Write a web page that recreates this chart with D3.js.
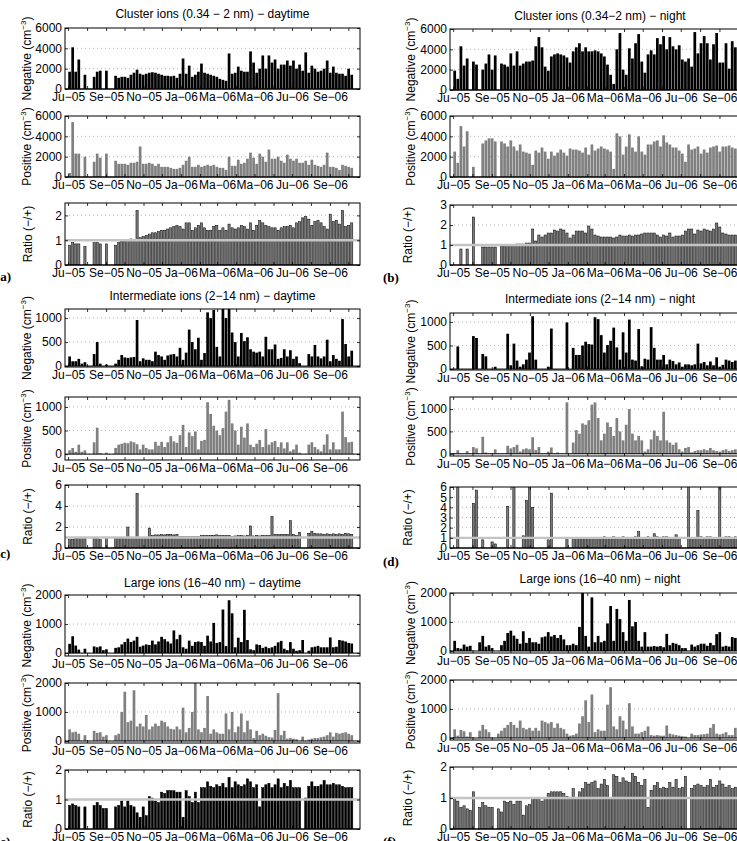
<!DOCTYPE html>
<html>
<head>
<meta charset="utf-8">
<script src="https://cdn.jsdelivr.net/npm/d3@7"></script>
<style>
  body { margin: 0; background: #fff; }
  svg { display: block; font-family: "Liberation Sans", Arial, sans-serif; }
</style>
</head>
<body>
<div id="fig"></div>
<script>
// 5-day bins starting 1 Jul 2005, null = no data
const binStart = new Date(2005, 6, 1);
const binDays = 5;

const tickLabels = ["Ju−05", "Se−05", "No−05", "Ja−06", "Ma−06", "Ma−06", "Ju−06", "Se−06"];

const clusterDayNeg = [1700,4100,1700,2900,null,1400,null,null,1200,1700,
  1800,null,1800,null,null,1300,1100,1200,1200,1100,
  1400,1600,1900,1500,1400,1500,1600,1650,1600,1500,
  1400,1300,1300,1250,1300,1100,1500,3000,1500,2300,
  1200,1400,1700,2500,1600,1500,1400,1300,1200,1000,
  900,800,3500,1500,1600,2200,1800,1700,1700,3700,
  2600,1600,2000,3300,2000,3300,2600,2900,2000,2400,
  2400,2800,2300,2800,2000,2400,1800,3600,1600,2300,
  2000,1700,1800,2000,2800,1600,2200,1600,1500,1500,
  1300,2000,1400];
const clusterDayPos = [400,5400,2300,2300,null,2000,null,null,1500,2300,
  1900,null,2300,null,null,1600,1300,1300,1300,1200,
  1400,1400,1500,3000,1300,1300,1400,1300,1100,1300,
  1000,1000,1000,900,800,800,900,1200,1600,2000,
  1000,1000,1200,1000,1100,1200,1100,1200,1000,900,
  900,700,2000,1100,1100,1700,1300,1400,1800,2400,
  1900,1300,2300,2000,1500,2700,1800,1800,2000,1600,
  1400,2200,1800,1600,1800,1400,1400,1600,1200,1700,
  1200,1100,1000,1200,2400,1000,1000,900,700,1200,
  1100,1000,900];
const clusterDayRatio = [0.8,0.9,0.85,0.85,null,0.75,null,null,0.9,0.9,
  0.85,null,0.85,null,null,0.8,0.9,0.95,0.95,1.0,
  1.05,1.0,2.2,1.1,1.15,1.2,1.25,1.3,1.3,1.35,
  1.4,1.4,1.45,1.5,1.55,1.6,1.55,1.45,1.7,1.7,
  1.4,1.5,1.6,1.7,1.5,1.4,1.4,1.55,1.6,1.4,
  1.5,1.4,1.65,1.5,1.45,1.5,1.6,1.55,1.45,1.7,
  1.4,1.6,1.8,1.7,1.6,1.55,1.5,1.5,1.4,1.5,
  1.55,1.55,1.6,1.5,1.7,1.75,1.9,1.95,1.85,1.6,
  1.75,1.8,1.7,1.55,1.45,2.05,1.75,1.8,1.65,2.2,
  1.55,1.6,1.7];

const clusterNightNeg = [1900,1100,4300,2400,3100,null,2800,2500,null,2000,
  2600,3500,2000,3400,null,2600,2500,2300,3600,2400,
  3800,2400,2600,2800,2800,2900,4300,5200,4200,2300,
  1900,3300,3500,3600,3500,3400,3200,2700,3800,4200,
  4600,3800,4200,3800,3800,3900,3800,3600,3300,2500,
  1500,600,4000,5600,2000,1500,4100,3100,4600,5500,
  2800,1700,3500,3900,3500,5100,4500,5300,4000,5200,
  4300,4000,4400,3000,2800,3100,2300,5700,3600,4600,
  5300,4600,3000,4500,5600,2700,2700,4600,2100,4800,
  4200,4000,3800];
const clusterNightPos = [2500,1400,5000,3000,4500,null,1000,null,null,3300,
  3600,3800,3800,3500,null,3500,3300,3000,3600,3000,
  2600,3200,2500,2400,2300,1200,2600,2400,2900,2500,
  1800,2500,2100,2400,2700,2400,2100,2800,2700,2700,
  2600,2400,2900,2200,3200,2600,2800,3000,2800,2700,
  2500,800,4300,4000,2200,3000,4200,2900,2500,4000,
  2500,2200,3200,3200,3500,3600,3000,4100,3400,3200,
  2900,2900,2600,2300,1500,3200,2700,2800,3000,2300,
  2700,2400,2900,3000,3100,2500,3000,3000,3100,2900,
  2800,3000,2800];
const clusterNightRatio = [null,null,0.8,null,0.8,null,2.4,null,null,0.9,
  0.9,0.9,0.9,0.9,null,0.95,0.95,1.0,1.0,1.0,
  1.05,1.05,1.05,1.1,1.1,1.8,1.2,1.5,1.4,1.5,
  1.6,1.6,1.75,1.7,1.8,1.75,1.6,1.35,1.5,1.7,
  1.7,1.7,1.6,1.95,1.8,1.5,1.45,1.4,1.4,1.4,
  1.4,1.35,1.4,1.5,1.45,1.45,1.5,1.45,1.5,1.5,
  1.55,1.6,1.6,1.6,1.6,1.5,1.4,1.5,1.45,1.6,
  1.4,1.45,1.45,1.5,1.7,1.8,1.8,1.55,1.75,1.7,
  1.8,1.75,1.7,1.8,2.1,1.9,1.6,1.55,1.5,1.5,
  1.5,1.5,1.5];

const interDayNeg = [200,100,100,150,50,80,null,null,250,500,
  50,null,30,null,null,50,130,230,180,170,
  180,190,960,100,160,130,130,100,300,230,
  200,130,220,240,250,200,380,130,280,760,
  500,350,590,130,270,1120,1000,1170,400,200,
  1200,1000,1200,700,500,200,690,520,600,350,
  300,280,300,200,610,350,350,450,150,170,
  350,200,330,150,200,60,null,null,250,200,
  440,200,160,200,550,100,230,150,110,980,
  460,200,320];
const interDayPos = [80,130,50,200,50,80,null,null,250,560,
  20,null,30,null,null,130,200,220,240,230,
  270,250,210,100,200,130,100,100,260,180,
  260,150,250,380,270,240,400,620,150,460,
  380,480,100,280,300,1100,850,600,500,400,
  550,900,1150,650,500,200,580,350,650,200,
  150,220,300,150,530,200,250,280,150,250,
  120,250,60,100,200,30,null,null,200,250,
  150,100,60,200,420,100,250,100,100,900,
  360,250,260];
const interDayRatio = [0.8,0.8,0.9,0.9,0.9,0.9,null,null,0.9,0.9,
  0.8,null,0.9,null,null,0.9,0.95,0.95,1.0,2.0,
  1.0,1.0,5.2,1.0,1.0,1.0,1.9,1.2,1.25,1.25,
  1.3,1.25,1.3,1.3,1.25,1.3,1.1,1.1,1.1,1.1,
  1.1,1.1,1.1,1.2,1.2,1.2,1.2,1.2,1.25,1.2,
  1.2,1.2,1.2,1.1,1.15,1.2,1.2,1.15,1.2,2.1,
  1.15,1.2,1.15,1.2,1.2,1.2,3.0,1.3,1.3,1.3,
  1.3,1.3,2.6,1.3,1.2,1.5,null,null,1.4,1.6,
  1.4,1.35,1.35,1.3,1.35,1.3,1.35,1.3,1.35,1.3,
  1.4,1.35,1.3];

const interNightNeg = [null,480,null,null,null,null,700,660,null,320,
  270,null,null,50,null,null,null,750,80,540,
  180,50,100,200,350,1120,200,null,null,null,
  50,860,null,null,null,null,990,null,450,300,
  300,500,580,530,520,1100,1060,720,350,510,
  600,880,460,200,780,350,1050,200,180,850,
  60,220,200,890,450,200,200,300,100,200,
  170,100,140,50,100,100,80,100,540,120,
  150,80,160,80,250,50,90,200,180,150,
  180,130,100];
const interNightPos = [null,80,null,null,60,null,150,120,null,380,
  30,null,null,100,null,null,null,180,120,150,
  200,50,100,120,100,370,80,150,null,null,
  50,140,null,30,null,null,1150,null,250,530,
  450,680,650,750,1100,1150,800,300,450,700,
  600,400,800,500,300,650,1000,450,300,400,
  300,50,100,320,520,400,300,940,300,250,
  200,250,100,50,130,150,30,60,80,80,
  100,80,130,80,60,50,80,100,60,80,
  100,150,100];
const interNightRatio = [null,6.5,null,null,null,null,4.4,5.7,null,0.8,
  null,null,0.6,0.4,null,null,null,4.1,null,6.5,
  null,null,1.2,4.7,6.5,4.0,null,null,null,null,
  0.8,5.4,null,null,null,null,1.0,null,1.0,1.0,
  1.0,1.0,1.05,1.0,1.0,1.0,1.05,1.0,1.1,1.0,
  1.0,1.1,1.0,1.05,1.1,1.0,1.05,1.0,1.1,1.6,
  1.05,1.0,1.1,1.0,1.4,1.1,1.0,1.1,1.1,1.0,
  1.05,1.3,1.0,null,null,6.5,1.0,1.0,3.7,1.1,
  1.0,1.1,1.1,1.0,1.05,6.5,1.0,1.1,1.1,1.0,
  1.1,1.1,1.0];

const largeDayNeg = [320,580,260,120,null,150,null,null,230,200,
  230,100,130,null,null,180,200,300,380,500,
  380,430,560,220,260,300,280,430,300,400,
  560,480,400,330,780,480,630,200,150,430,
  250,380,400,380,250,600,400,1040,350,380,
  1500,240,1820,1370,200,530,380,1490,450,130,
  100,300,280,180,220,170,200,250,370,420,
  150,100,380,150,80,100,450,null,80,200,
  220,250,200,200,200,540,200,220,450,430,
  400,350,330];
const largeDayPos = [400,300,320,250,null,200,null,null,350,280,
  300,150,200,null,null,200,250,1000,1700,650,
  700,1750,500,600,500,900,400,500,600,520,
  700,650,500,420,400,500,400,1150,300,450,
  1000,2000,400,300,450,1550,250,400,300,250,
  250,950,400,1000,300,500,950,300,700,400,
  100,350,200,250,180,130,120,380,1650,200,
  350,80,100,80,60,null,150,null,50,80,
  100,100,130,150,200,300,150,280,250,280,
  300,250,200];
const largeDayRatio = [0.8,0.85,0.8,0.75,null,0.75,null,null,0.8,0.9,
  0.8,0.7,0.7,null,null,0.75,0.8,0.95,0.75,0.95,
  0.8,0.75,0.55,0.4,0.75,0.45,1.1,1.05,0.95,0.9,
  1.25,1.2,1.3,1.3,1.3,1.25,1.25,0.4,1.3,1.1,
  0.9,1.25,0.9,1.4,1.4,1.6,1.45,1.4,1.5,1.45,
  1.55,1.4,1.75,1.4,1.6,1.5,1.45,1.5,1.7,1.6,
  1.4,1.5,0.75,1.4,1.5,1.55,1.4,1.5,1.7,1.4,
  1.55,1.45,1.65,1.4,1.4,1.4,null,1.05,1.45,1.6,
  1.45,1.45,1.5,1.65,1.5,1.5,1.55,1.5,1.5,1.45,
  1.4,1.4,1.4];

const largeNightNeg = [350,100,80,220,150,180,null,null,300,520,
  150,200,100,null,null,200,350,620,700,530,
  420,250,680,280,450,300,300,250,470,500,
  650,500,550,450,550,400,200,200,250,200,
  830,2000,520,150,1850,300,520,300,350,950,
  1550,350,1450,1100,650,350,1760,850,1000,350,
  150,650,150,150,170,150,170,130,590,200,
  280,250,200,100,100,null,220,150,200,250,
  250,180,280,200,580,650,150,180,150,480,
  450,300,300];
const largeNightPos = [300,80,280,230,50,200,null,null,250,450,
  300,200,null,null,150,250,350,450,550,450,
  350,600,350,300,350,250,350,250,600,550,
  500,550,350,500,350,300,150,80,100,150,
  500,750,1300,550,1500,200,300,250,250,1150,
  1750,400,300,750,600,300,1200,400,150,150,
  200,250,400,100,80,100,80,80,430,150,
  120,100,80,60,50,null,150,100,100,120,
  130,150,350,480,150,120,150,200,100,100,
  350,300,250];
const largeNightRatio = [0.95,0.9,0.7,0.75,0.65,0.6,1.2,null,0.7,0.85,
  0.75,0.7,0.7,null,0.65,0.55,0.9,0.85,0.9,0.8,
  0.9,0.9,0.45,0.75,0.8,1.0,0.95,0.95,0.9,1.0,
  1.15,1.2,1.2,1.2,1.2,1.15,1.05,1.0,1.3,1.0,
  1.2,1.3,1.5,1.45,1.5,1.55,1.3,1.45,1.6,1.4,
  1.0,1.75,1.7,1.5,1.65,1.55,1.5,1.8,1.7,1.5,
  1.4,1.6,0.7,1.25,1.4,1.5,1.3,1.35,1.3,1.5,
  1.35,1.6,1.3,1.35,1.7,null,1.3,1.4,1.45,1.4,
  1.35,1.4,1.6,1.35,1.4,1.55,1.45,1.35,1.4,1.3,
  1.35,1.35,1.4];

// layout
const width = 737, height = 841;
const colX = [[65, 360], [450, 750]];
const timeDomain = [new Date(2005, 5, 26), new Date(2006, 9, 20)];
const monthTicks = d3.timeMonth.range(new Date(2005, 6, 1), new Date(2006, 9, 2));

const panels = [
  { tag: '(a)', col: 0, title: 'Cluster ions (0.34 − 2 nm) − daytime', titleY: 18, tagPos: [-4, 281],
    series: [clusterDayNeg, clusterDayPos, clusterDayRatio],
    boxes: [[28, 89], [116, 177], [203, 265]],
    doms: [[0, 6000], [0, 6000], [0, 2.5]],
    ticks: [[0, 2000, 4000, 6000], [0, 2000, 4000, 6000], [0, 1, 2]] },
  { tag: '(b)', col: 1, title: 'Cluster ions (0.34−2 nm) − night', titleY: 20, tagPos: [383, 282],
    series: [clusterNightNeg, clusterNightPos, clusterNightRatio],
    boxes: [[29, 90], [116, 177], [205, 265]],
    doms: [[0, 6000], [0, 6000], [0, 3]],
    ticks: [[0, 2000, 4000, 6000], [0, 2000, 4000, 6000], [0, 1, 2, 3]] },
  { tag: '(c)', col: 0, title: 'Intermediate ions (2−14 nm) − daytime', titleY: 300, tagPos: [-4, 558],
    series: [interDayNeg, interDayPos, interDayRatio],
    boxes: [[309, 367], [397, 460], [485, 548]],
    doms: [[-20, 1190], [-125, 1210], [0, 6]],
    ticks: [[0, 500, 1000], [0, 500, 1000], [0, 2, 4, 6]] },
  { tag: '(d)', col: 1, title: 'Intermediate ions (2−14 nm) − night', titleY: 303, tagPos: [383, 566],
    series: [interNightNeg, interNightPos, interNightRatio],
    boxes: [[313, 370], [397, 456], [487, 548]],
    doms: [[-20, 1190], [-50, 1270], [0, 6]],
    ticks: [[0, 500, 1000], [0, 500, 1000], [0, 1, 2, 3, 4, 5, 6]] },
  { tag: '(e)', col: 0, title: 'Large ions (16−40 nm) − daytime', titleY: 587, tagPos: [-4, 846],
    series: [largeDayNeg, largeDayPos, largeDayRatio], darkRatio: true,
    boxes: [[595, 656], [683, 743], [770, 829]],
    doms: [[-100, 2000], [-70, 2000], [0, 2]],
    ticks: [[0, 1000, 2000], [0, 1000, 2000], [0, 1, 2]] },
  { tag: '(f)', col: 1, title: 'Large ions (16−40 nm) − night', titleY: 583, tagPos: [383, 846],
    series: [largeNightNeg, largeNightPos, largeNightRatio],
    boxes: [[593, 653], [680, 740], [767, 829]],
    doms: [[-70, 2000], [-70, 2000], [0, 2]],
    ticks: [[0, 1000, 2000], [0, 1000, 2000], [0, 1, 2]] }
];

let svg = d3.select('#fig')
  .append('svg')
  .attr('width', width)
  .attr('height', height);

svg.append('rect').attr('width', width).attr('height', height).attr('fill', '#fff');

let clipCount = 0;

function drawSub(p, k) {
  let [x0, x1] = colX[p.col];
  let [top, bottom] = p.boxes[k];
  let values = p.series[k];

  let x = d3.scaleTime().domain(timeDomain).range([x0, x1]);
  let y = d3.scaleLinear().domain(p.doms[k]).range([bottom, top]);

  let g = svg.append('g');

  let clipId = 'clip' + (clipCount++);
  svg.append('clipPath').attr('id', clipId)
    .append('rect')
    .attr('x', x0).attr('y', top)
    .attr('width', x1 - x0).attr('height', bottom - top);

  // dotted grid
  g.selectAll('line.grid')
    .data(p.ticks[k].filter(t => y(t) > top + 1.5 && y(t) < bottom - 1.5))
    .join('line')
    .attr('x1', x0).attr('x2', x1)
    .attr('y1', d => y(d)).attr('y2', d => y(d))
    .attr('stroke', '#a0a0a0')
    .attr('stroke-width', 0.8)
    .attr('stroke-dasharray', '1,3');

  // bars
  let binW = x(d3.timeDay.offset(binStart, binDays)) - x(binStart);
  let isRatio = k === 2;
  let fill = k === 0 ? '#000' : (k === 1 ? '#808080' : (p.darkRatio ? '#000' : '#7a7a7a'));
  let frac = isRatio ? 0.72 : 0.88;

  g.append('g')
    .attr('clip-path', `url(#${clipId})`)
    .selectAll('rect')
    .data(values.map((v, i) => ({ v: v, i: i })).filter(d => d.v != null))
    .join('rect')
    .attr('x', d => x(d3.timeDay.offset(binStart, d.i * binDays)) + binW * (1 - frac) / 2)
    .attr('width', binW * frac)
    .attr('y', d => y(Math.max(d.v, 0)))
    .attr('height', d => Math.abs(y(0) - y(d.v)))
    .attr('fill', fill)
    .attr('stroke', isRatio ? '#000' : 'none')
    .attr('stroke-width', 0.5);

  // zero baseline
  g.append('line')
    .attr('x1', x0).attr('x2', x1)
    .attr('y1', y(0)).attr('y2', y(0))
    .attr('stroke', '#000').attr('stroke-width', 1);

  // reference line at ratio 1
  if (isRatio) {
    g.append('line')
      .attr('x1', x0).attr('x2', x1)
      .attr('y1', y(1)).attr('y2', y(1))
      .attr('stroke', '#c4c4c4').attr('stroke-width', 2.4);
  }

  // axes
  let fmtMonth = (d, i) => i % 2 === 0 ? tickLabels[i / 2] : '';

  g.append('g')
    .attr('transform', `translate(0,${bottom})`)
    .call(d3.axisBottom(x).tickValues(monthTicks).tickSizeInner(-3).tickSizeOuter(0).tickPadding(3).tickFormat(fmtMonth))
    .call(a => a.select('.domain').remove());

  g.append('g')
    .attr('transform', `translate(0,${top})`)
    .call(d3.axisTop(x).tickValues(monthTicks).tickSizeInner(-3).tickSizeOuter(0).tickFormat(''))
    .call(a => a.select('.domain').remove());

  g.append('g')
    .attr('transform', `translate(${x0},0)`)
    .call(d3.axisLeft(y).tickValues(p.ticks[k]).tickSizeInner(-3).tickSizeOuter(0).tickPadding(3).tickFormat(d3.format('d')))
    .call(a => a.select('.domain').remove());

  g.append('g')
    .attr('transform', `translate(${x1},0)`)
    .call(d3.axisRight(y).tickValues(p.ticks[k]).tickSizeInner(-3).tickSizeOuter(0).tickFormat(''))
    .call(a => a.select('.domain').remove());

  // frame
  g.append('rect')
    .attr('x', x0).attr('y', top)
    .attr('width', x1 - x0).attr('height', bottom - top)
    .attr('fill', 'none')
    .attr('stroke', '#000')
    .attr('stroke-width', 1);

  // y label
  let labX = p.col === 0 ? (isRatio ? 32 : 31) : (isRatio ? 412 : 415);
  let lab = svg.append('text')
    .attr('transform', `translate(${labX},${(top + bottom) / 2}) rotate(-90)`)
    .attr('text-anchor', 'middle')
    .attr('font-size', 12);
  if (isRatio) {
    lab.text('Ratio (−/+)');
  } else {
    lab.append('tspan').text((k === 0 ? 'Negative' : 'Positive') + ' (cm');
    lab.append('tspan').attr('dy', -5).attr('font-size', 8).text('−3');
    lab.append('tspan').attr('dy', 5).text(')');
  }
}

panels.forEach(function(p) {
  for (let k = 0; k < 3; k++) drawSub(p, k);

  let [x0, x1] = colX[p.col];
  svg.append('text')
    .attr('x', (x0 + x1) / 2)
    .attr('y', p.titleY)
    .attr('text-anchor', 'middle')
    .attr('font-size', 12)
    .text(p.title);

  svg.append('text')
    .attr('x', p.tagPos[0])
    .attr('y', p.tagPos[1])
    .attr('font-family', '"Liberation Serif", "Times New Roman", serif')
    .attr('font-weight', 'bold')
    .attr('font-size', 13)
    .text(p.tag);
});

svg.selectAll('.tick text')
  .attr('font-size', 12)
  .attr('fill', '#000')
  .style('font-family', '"Liberation Sans", Arial, sans-serif');

svg.selectAll('.tick line')
  .attr('stroke', '#000')
  .attr('stroke-width', 0.8);
</script>
</body>
</html>
